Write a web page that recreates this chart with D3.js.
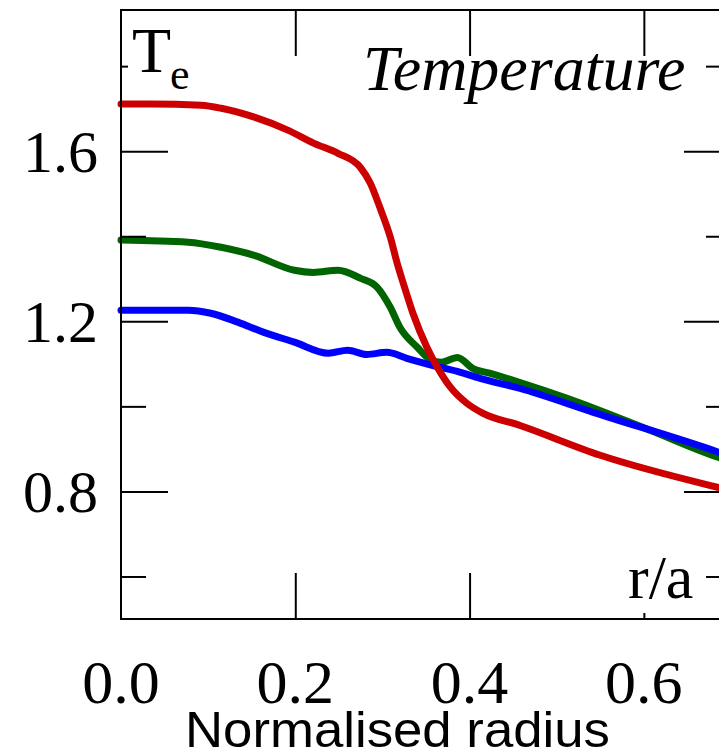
<!DOCTYPE html>
<html>
<head>
<meta charset="utf-8">
<title>Temperature profile</title>
<script src="https://d3js.org/d3.v7.min.js"></script>
<style>
    body { margin: 0; background: #fff; }
    svg { display: block; }
    .serif { font-family: "Liberation Serif", "Times New Roman", serif; fill: #000; }
    .sans { font-family: "Liberation Sans", Arial, sans-serif; fill: #000; }
    .axis line { stroke: #000; stroke-width: 2; }
</style>
</head>
<body>
<svg id="chart"></svg>
<script>
// normalised radius r/a and electron temperature for the three profiles
var redR   = [0, 0.034, 0.092, 0.115, 0.153, 0.192, 0.221, 0.249, 0.275, 0.286, 0.297, 0.309, 0.317, 0.324, 0.335, 0.351, 0.363, 0.378, 0.397, 0.415, 0.458, 0.550, 0.686, 0.700];
var redT   = [1.711, 1.711, 1.708, 1.701, 1.680, 1.649, 1.619, 1.595, 1.561, 1.525, 1.468, 1.398, 1.336, 1.289, 1.219, 1.139, 1.092, 1.045, 1.007, 0.984, 0.955, 0.885, 0.809, 0.802];

var greenR = [0, 0.077, 0.115, 0.153, 0.199, 0.221, 0.249, 0.275, 0.294, 0.309, 0.320, 0.340, 0.355, 0.368, 0.386, 0.404, 0.423, 0.458, 0.512, 0.607, 0.686, 0.700];
var greenT = [1.391, 1.386, 1.374, 1.355, 1.320, 1.315, 1.320, 1.301, 1.280, 1.233, 1.186, 1.139, 1.110, 1.104, 1.115, 1.089, 1.078, 1.056, 1.019, 0.944, 0.880, 0.871];

var blueR  = [0, 0.077, 0.103, 0.134, 0.164, 0.199, 0.238, 0.260, 0.282, 0.305, 0.328, 0.358, 0.386, 0.412, 0.458, 0.542, 0.686, 0.700];
var blueT  = [1.226, 1.226, 1.219, 1.198, 1.174, 1.151, 1.125, 1.132, 1.122, 1.127, 1.113, 1.096, 1.082, 1.066, 1.042, 0.986, 0.892, 0.882];

var xTicks = [0, 0.2, 0.4, 0.6];
var yMajor = [0.8, 1.2, 1.6];
var yMinor = [0.6, 1.0, 1.4, 1.8];

var width = 719, height = 753;
var svg = d3.select("#chart").attr("width", width).attr("height", height);

var x = d3.scaleLinear().domain([0, 0.7]).range([121, 731]);
var y = d3.scaleLinear().domain([0.5, 1.932]).range([619, 10]);

//profiles, drawn green, blue, red so red sits on top
var series = [
    {r: greenR, t: greenT, color: "#006400"},
    {r: blueR,  t: blueT,  color: "#0000ff"},
    {r: redR,   t: redT,   color: "#cc0000"}
];
var line = d3.line()
    .x(function(d){ return x(d[0]); })
    .y(function(d){ return y(d[1]); })
    .curve(d3.curveMonotoneX);

series.forEach(function(s){
    svg.append("path")
        .datum(d3.zip(s.r, s.t))
        .attr("d", line)
        .attr("fill", "none")
        .attr("stroke", s.color)
        .attr("stroke-width", 7)
        .attr("stroke-linecap", "round")
        .attr("stroke-linejoin", "round");
});

//ticks on all four sides, pointing inward
function ticks(axis, tr){
    var g = svg.append("g").attr("class", "axis").attr("transform", tr).call(axis);
    g.select(".domain").remove();
    return g;
}
ticks(d3.axisLeft(y).tickValues(yMajor).tickSize(-47).tickFormat(""), "translate(121,0)");
ticks(d3.axisLeft(y).tickValues(yMinor).tickSize(-25).tickFormat(""), "translate(121,0)");
ticks(d3.axisRight(y).tickValues(yMajor).tickSize(-47).tickFormat(""), "translate(731,0)");
ticks(d3.axisRight(y).tickValues(yMinor).tickSize(-25).tickFormat(""), "translate(731,0)");
ticks(d3.axisBottom(x).tickValues(xTicks.slice(1)).tickSize(-46).tickFormat(""), "translate(0,619)");
ticks(d3.axisTop(x).tickValues(xTicks.slice(1)).tickSize(-46).tickFormat(""), "translate(0,10)");

//frame
svg.append("rect")
    .attr("x", 121).attr("y", 10)
    .attr("width", 731 - 121).attr("height", 619 - 10)
    .attr("fill", "none").attr("stroke", "#000").attr("stroke-width", 2);

//tick labels
svg.selectAll(".ylab").data(yMajor).enter().append("text")
    .attr("class", "serif")
    .attr("x", 98)
    .attr("y", function(d){ return y(d) + 21; })
    .attr("text-anchor", "end")
    .style("font-size", "60px")
    .text(d3.format(".1f"));

svg.selectAll(".xlab").data(xTicks).enter().append("text")
    .attr("class", "serif")
    .attr("x", function(d){ return x(d); })
    .attr("y", 703)
    .attr("text-anchor", "middle")
    .style("font-size", "62px")
    .text(d3.format(".1f"));

//labels inside the frame
svg.append("rect").attr("x", 128).attr("y", 22).attr("width", 66).attr("height", 72).attr("fill", "#fff");
var te = svg.append("text").attr("class", "serif").attr("x", 132).attr("y", 72).style("font-size", "64px");
te.append("tspan").text("T");
te.append("tspan").attr("x", 170).attr("y", 89).style("font-size", "44px").text("e");

svg.append("text")
    .attr("class", "serif")
    .attr("x", 363).attr("y", 90)
    .style("font-size", "64px")
    .style("font-style", "italic")
    .text("Temperature");

svg.append("rect").attr("x", 624).attr("y", 552).attr("width", 76).attr("height", 61).attr("fill", "#fff");
svg.append("text")
    .attr("class", "serif")
    .attr("x", 628).attr("y", 598)
    .style("font-size", "62px")
    .text("r/a");

svg.append("text")
    .attr("class", "sans")
    .attr("x", 185).attr("y", 747)
    .attr("textLength", 425)
    .attr("lengthAdjust", "spacingAndGlyphs")
    .style("font-size", "50px")
    .text("Normalised radius");
</script>
</body>
</html>
